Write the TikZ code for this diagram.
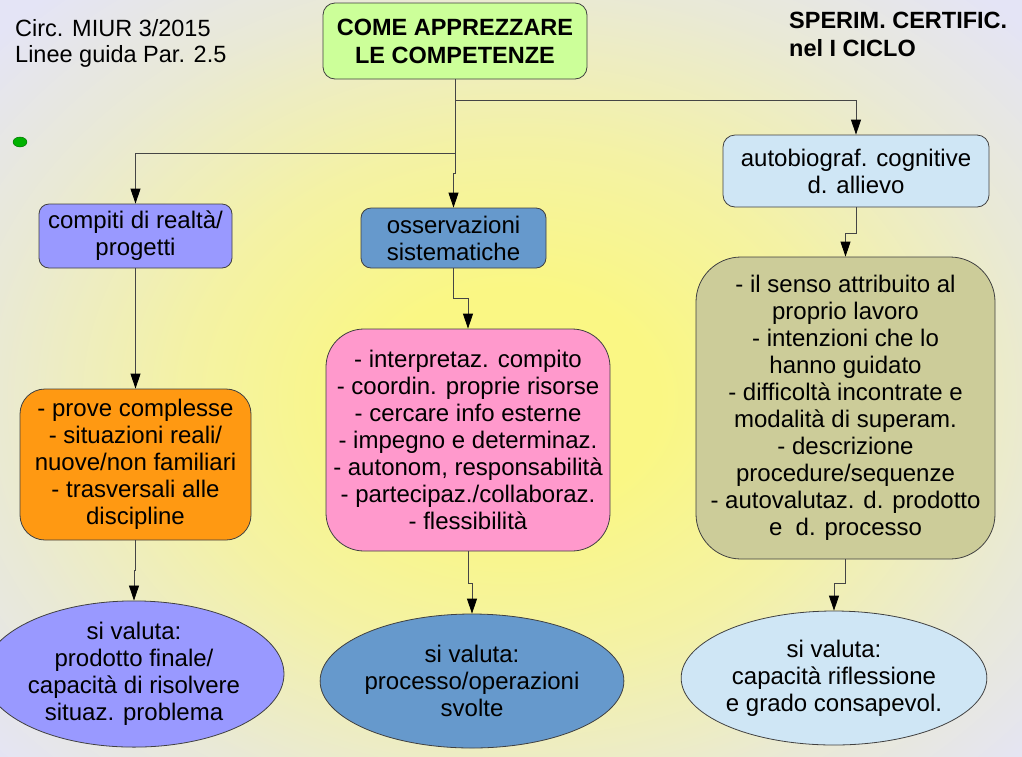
\documentclass[tikz,border=0pt]{standalone}
\usepackage{fontspec}
\setmainfont{Liberation Sans}
\usetikzlibrary{arrows.meta,shapes.geometric}
\definecolor{bgin}{HTML}{FAF784}
\definecolor{bgmid}{HTML}{F4F2A4}
\definecolor{bgmid2}{HTML}{E9E9D6}
\definecolor{bgout}{HTML}{E4E4F6}
\definecolor{cgreen}{HTML}{CCFF99}
\definecolor{cviolet}{HTML}{9999FF}
\definecolor{cblue}{HTML}{6699CC}
\definecolor{clight}{HTML}{CFE6F5}
\definecolor{corange}{HTML}{FF9912}
\definecolor{cpink}{HTML}{FF99CC}
\definecolor{colive}{HTML}{CCCC99}
\definecolor{border}{HTML}{404040}
\definecolor{linec}{HTML}{454545}
\pgfdeclareradialshading{bgshade}{\pgfpoint{0bp}{0bp}}{color(0bp)=(bgin); color(7bp)=(bgin); color(16bp)=(bgmid); color(26bp)=(bgmid2); color(34bp)=(bgout); color(50bp)=(bgout)}
\newcommand\fsz{\fontsize{24}{27}\selectfont}
\newcommand\fse{\fontsize{24}{27}\selectfont}
\begin{document}
\begin{tikzpicture}[x=1pt,y=-1pt,
  box/.style={draw=border, line width=0.8pt, rectangle, align=center, inner sep=0pt, font=\fsz},
  oval/.style={draw=border, line width=0.8pt, ellipse, align=center, inner sep=0pt, font=\fse},
  conn/.style={draw=linec, line width=0.8pt, -{Triangle[length=15pt,width=10pt,color=black]}},
  plain/.style={draw=linec, line width=0.8pt}]
\useasboundingbox (0,0) rectangle (1022,756);
\begin{scope}
\clip (0,0) rectangle (1022,756);
\shade[shading=bgshade] (0,0) rectangle (1030,800);
\end{scope}

% header texts
\node[anchor=west, align=left, inner sep=0pt, font=\fontsize{23.5}{26}\selectfont] (circ) at (15,43) {Circ. MIUR 3/2015\\Linee guida Par. 2.5};
\node[anchor=west, align=left, inner sep=0pt, font=\fontsize{23.5}{28}\selectfont\bfseries] (sperim) at (789,34) {SPERIM. CERTIFIC.\\nel I CICLO};
\node[ellipse, draw=green!40!black, fill=green!70!black, minimum width=14, minimum height=10, inner sep=0pt] (dot) at (20,142) {};

% nodes
\node[box, fill=cgreen, rounded corners=12pt, minimum width=264, minimum height=76, font=\fontsize{23.5}{28}\selectfont\bfseries] (title) at (455,41) {COME APPREZZARE\\LE COMPETENZE};
\node[box, fill=cviolet, rounded corners=10pt, minimum width=193, minimum height=64] (compiti) at (135.5,236) {compiti di realtà/\\progetti};
\node[box, fill=cblue, rounded corners=10pt, minimum width=185, minimum height=60] (osserv) at (453.5,238) {osservazioni\\sistematiche};
\node[box, fill=clight, rounded corners=12pt, minimum width=266, minimum height=72] (autobio) at (856,171) {autobiograf. cognitive\\d. allievo};
\node[box, fill=corange, rounded corners=25pt, minimum width=231, minimum height=151] (prove) at (135.5,464.5) {- prove complesse\\- situazioni reali/\\nuove/non familiari\\- trasversali alle\\discipline};
\node[box, fill=cpink, rounded corners=38pt, minimum width=284, minimum height=222] (interp) at (468,440) {- interpretaz. compito\\- coordin. proprie risorse\\- cercare info esterne\\- impegno e determinaz.\\- autonom, responsabilità\\- partecipaz./collaboraz.\\- flessibilità};
\node[box, fill=colive, rounded corners=45pt, minimum width=299, minimum height=302] (senso) at (845.5,408) {- il senso attribuito al\\proprio lavoro\\- intenzioni che lo\\hanno guidato\\- difficoltà incontrate e\\modalità di superam.\\- descrizione\\procedure/sequenze\\- autovalutaz. d. prodotto\\e\ \ d. processo};
\node[oval, fill=cviolet, minimum width=266, minimum height=144] (ellL) at (134,674) {si valuta:\\prodotto finale/\\capacità di risolvere\\situaz. problema};
\node[oval, fill=cblue, minimum width=248, minimum height=134] (ellM) at (472,681) {si valuta:\\processo/operazioni\\svolte};
\node[oval, fill=clight, minimum width=266, minimum height=134] (ellR) at (834,678) {si valuta:\\capacità riflessione\\e grado consapevol.};

% connectors
\coordinate (b1) at (455,100);
\coordinate (b2) at (455,153);
\draw[plain] (title.south) -- (b1);
\draw[conn] (b1) -| (autobio.north);
\draw[conn] (b1) -- (b2) -| (compiti.north);
\draw[conn] (b2) -- ++(0,20) -| (osserv.north);
\draw[conn] (compiti.south) -- (prove.north);
\draw[conn] (prove.south) -- ++(0,30) -| (ellL.north);
\draw[conn] (osserv.south) -- ++(0,30) -| (interp.north);
\draw[conn] (interp.south) -- ++(0,32) -| (ellM.north);
\draw[conn] (autobio.south) -- ++(0,26) -| (senso.north);
\draw[conn] (senso.south) -- ++(0,24) -| (ellR.north);
\end{tikzpicture}
\end{document}
